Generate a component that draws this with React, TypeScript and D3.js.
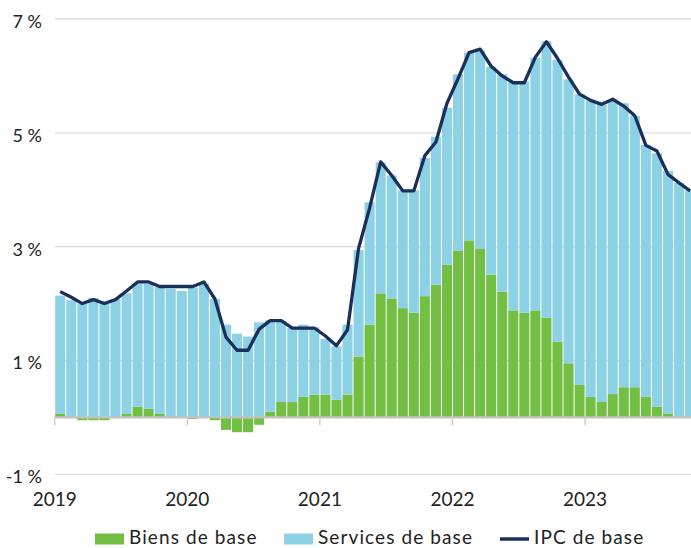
import React, { useRef, useEffect } from 'react';
import * as d3 from 'd3';

// monthly data, Jan 2019 - Oct 2023
const years = ['2019', '2020', '2021', '2022', '2023'];
const months = years
  .flatMap(yr => ['01', '02', '03', '04', '05', '06', '07', '08', '09', '10', '11', '12'].map(m => `${yr}-${m}`))
  .slice(0, 58);

const goods = [
  0.06, 0.02, -0.05, -0.05, -0.05, 0.02, 0.06, 0.19, 0.15, 0.06, 0.02, 0.0,
  -0.03, 0.0, -0.05, -0.22, -0.26, -0.26, -0.13, 0.1, 0.27, 0.27, 0.36, 0.4,
  0.4, 0.31, 0.4, 1.07, 1.63, 2.18, 2.09, 1.92, 1.84, 2.13, 2.33, 2.68,
  2.93, 3.11, 2.97, 2.51, 2.21, 1.88, 1.84, 1.88, 1.75, 1.33, 0.95, 0.57,
  0.36, 0.27, 0.41, 0.53, 0.53, 0.36, 0.19, 0.07, 0.0, 0.01,
];

const services = [
  2.08, 2.04, 1.99, 2.1, 2.0, 2.06, 2.12, 2.16, 2.2, 2.23, 2.24, 2.22,
  2.28, 2.35, 2.08, 1.63, 1.47, 1.42, 1.67, 1.61, 1.42, 1.3, 1.27, 1.18,
  0.98, 0.94, 1.23, 1.87, 2.15, 2.3, 2.16, 2.07, 2.15, 2.43, 2.6, 2.76,
  3.1, 3.3, 3.48, 3.65, 3.82, 4.02, 4.06, 4.44, 4.86, 4.95, 4.99, 5.11,
  5.21, 5.23, 5.16, 4.99, 4.77, 4.43, 4.45, 4.26, 4.12, 3.98,
];

const core = [
  2.21, 2.11, 2.0, 2.07, 2.0, 2.07, 2.22, 2.38, 2.38, 2.3, 2.3, 2.3,
  2.3, 2.38, 2.08, 1.41, 1.18, 1.18, 1.55, 1.7, 1.7, 1.57, 1.57, 1.57,
  1.43, 1.26, 1.54, 2.97, 3.68, 4.49, 4.25, 3.98, 3.98, 4.6, 4.84, 5.52,
  5.95, 6.41, 6.47, 6.17, 6.0, 5.88, 5.88, 6.33, 6.6, 6.31, 5.98, 5.68,
  5.57, 5.5, 5.59, 5.47, 5.3, 4.78, 4.68, 4.27, 4.12, 3.98,
];

const yTicks = [7, 5, 3, 1, -1];
const seriesNames = ['Biens de base', 'Services de base', 'IPC de base'];

const GREEN = '#72bf44';
const BLUE = '#8dd2e4';
const NAVY = '#1b2f5b';
const FONT = 'Lato, "Open Sans", sans-serif';

const Chart = ({ width, height }) => {
  const ref = useRef();

  useEffect(() => {
    const svg = d3.select(ref.current);
    svg.selectAll('*').remove();

    const left = 54.7;
    const step = 11.05;

    const x = d3.scaleBand()
      .domain(months)
      .range([left, left + months.length * step])
      .paddingInner(0.09)
      .paddingOuter(0.045);

    const y = d3.scaleLinear().domain([-1, 7]).range([474.3, 19]);

    // gridlines
    svg.append('g')
      .selectAll('line')
      .data(yTicks)
      .join('line')
        .attr('x1', 55)
        .attr('x2', width)
        .attr('y1', d => y(d))
        .attr('y2', d => y(d))
        .attr('stroke', '#dcdcdc')
        .attr('stroke-width', 1.3);

    svg.append('g')
      .selectAll('text')
      .data(yTicks)
      .join('text')
        .attr('x', 42)
        .attr('y', d => y(d) + 2)
        .attr('text-anchor', 'end')
        .attr('dominant-baseline', 'central')
        .attr('font-family', FONT)
        .attr('font-size', 18)
        .attr('fill', '#222')
        .text(d => `${d} %`);

    const rows = months.map((m, i) => ({ month: m, goods: goods[i], services: services[i] }));
    const stack = d3.stack().keys(['goods', 'services']).offset(d3.stackOffsetDiverging)(rows);
    const colors = [GREEN, BLUE];

    svg.append('g')
      .selectAll('g')
      .data(stack)
      .join('g')
        .attr('fill', (d, i) => colors[i])
      .selectAll('rect')
      .data(d => d)
      .join('rect')
        .attr('x', d => x(d.data.month))
        .attr('width', x.bandwidth())
        .attr('y', d => y(Math.max(d[0], d[1])))
        .attr('height', d => Math.abs(y(d[0]) - y(d[1])));

    // zero axis + year ticks
    const zero = y(0);
    const half = (x.step() - x.bandwidth()) / 2;
    svg.append('line')
      .attr('x1', left)
      .attr('x2', width)
      .attr('y1', zero)
      .attr('y2', zero)
      .attr('stroke', '#c2c2c2')
      .attr('stroke-width', 2.4);

    svg.append('g')
      .selectAll('line')
      .data(years)
      .join('line')
        .attr('x1', d => x(`${d}-01`) - half)
        .attr('x2', d => x(`${d}-01`) - half)
        .attr('y1', zero)
        .attr('y2', zero + 8)
        .attr('stroke', '#cfcfcf')
        .attr('stroke-width', 1.5);

    svg.append('g')
      .selectAll('text')
      .data(years)
      .join('text')
        .attr('x', d => x(`${d}-01`) - half)
        .attr('y', 506)
        .attr('text-anchor', 'middle')
        .attr('font-family', FONT)
        .attr('font-size', 19)
        .attr('fill', '#222')
        .text(d => d);

    const line = d3.line()
      .x((d, i) => x(months[i]) + x.bandwidth() / 2)
      .y(d => y(d));

    svg.append('path')
      .datum(core)
      .attr('d', line)
      .attr('fill', 'none')
      .attr('stroke', NAVY)
      .attr('stroke-width', 3.3)
      .attr('stroke-linejoin', 'round');

    // legend
    const legendX = [95, 284, 500];
    const legend = svg.append('g')
      .selectAll('g')
      .data(seriesNames)
      .join('g')
        .attr('transform', (d, i) => `translate(${legendX[i]},539)`);

    legend.filter((d, i) => i < 2)
      .append('rect')
        .attr('x', 0)
        .attr('y', -5.5)
        .attr('width', 29)
        .attr('height', 11)
        .attr('fill', (d, i) => colors[i]);

    legend.filter((d, i) => i === 2)
      .append('line')
        .attr('x1', 0)
        .attr('x2', 29)
        .attr('y1', 0)
        .attr('y2', 0)
        .attr('stroke', NAVY)
        .attr('stroke-width', 3.5);

    legend.append('text')
      .attr('x', 34)
      .attr('y', 5)
      .attr('font-family', FONT)
      .attr('font-size', 19)
      .attr('letter-spacing', 1.1)
      .attr('fill', '#222')
      .text(d => d);
  }, [width, height]);

  return (
    <svg
      ref={ref}
      width={width}
      height={height}
      style={{ position: 'fixed', left: 0, top: 0, background: '#fff' }}
    />
  );
};

export default function App() {
  return <Chart width={691} height={548} />;
}
